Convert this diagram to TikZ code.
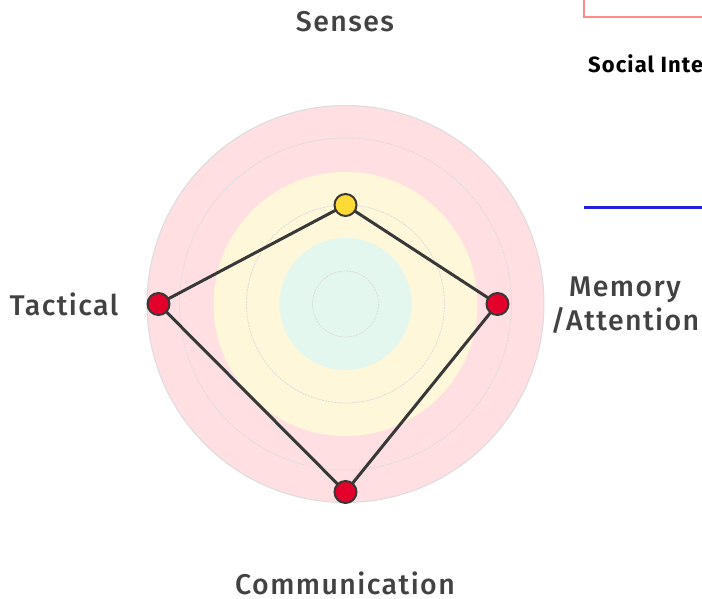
\documentclass[tikz,border=0pt]{standalone}
\usepackage{fontspec}
\setmainfont{Fira Sans}[UprightFont=* Medium, BoldFont=* Bold, LetterSpace=5]
\begin{document}
\begin{tikzpicture}[x=1pt,y=-1pt,
  lab/.style={text=labgray, font=\fontsize{28.5}{34}\selectfont, inner sep=0pt, align=center},
  dot/.style={circle, minimum size=22pt, inner sep=0pt, draw=linegray, line width=2pt, fill=#1},
  grid/.style={draw=gridgray, line width=0.8pt, dash pattern=on 2pt off 1pt},
  poly/.style={draw=linegray, line width=3pt, line join=round}]
\definecolor{labgray}{HTML}{424242}
\definecolor{linegray}{HTML}{383838}
\definecolor{gridgray}{HTML}{DCDCDC}
\definecolor{pinkbg}{HTML}{FFDFE1}
\definecolor{yellowbg}{HTML}{FFF7D9}
\definecolor{mintbg}{HTML}{E3F7EF}
\definecolor{dotred}{HTML}{E3002B}
\definecolor{dotyellow}{HTML}{FFD935}
\definecolor{legred}{HTML}{FF8A8A}
\definecolor{legblue}{HTML}{2222DD}
\useasboundingbox (0,0) rectangle (702,599);
\clip (0,0) rectangle (702,599);
\coordinate (C) at (345.5,304);
% background disks
\fill[pinkbg, draw=gridgray, line width=1pt] (C) circle (198.5);
\fill[yellowbg] (C) circle (132);
\fill[mintbg] (C) circle (66);
\draw[grid] (C) circle (166);
\draw[grid] (C) circle (99);
\draw[grid] (C) circle (33);
% data points
\coordinate (sen) at (345.5,205);
\coordinate (mem) at (497.5,304);
\coordinate (com) at (345.5,492);
\coordinate (tac) at (158.5,304);
\draw[poly] (sen) -- (mem) -- (com) -- (tac) -- cycle;
\node[dot=dotyellow] (dsen) at (sen) {};
\node[dot=dotred] (dmem) at (mem) {};
\node[dot=dotred] (dcom) at (com) {};
\node[dot=dotred] (dtac) at (tac) {};
% labels
\node[lab] (lsen) at (345,22) {Senses};
\node[lab] (ltac) at (64,304) {Tactical};
\node[lab] (lmem) at (625,305) {Memory\\/Attention};
\node[lab] (lcom) at (345,583) {Communication};
% partial legend on the right
\draw[legred, line width=1.2pt] (584,-10) rectangle (720,17);
\node[anchor=west, inner sep=0pt, text=black, font=\fontsize{22}{26}\selectfont\bfseries] (soc) at (588,64) {Social Interaction};
\draw[legblue, line width=3pt] (584,208) -- (720,208);
\end{tikzpicture}
\end{document}
